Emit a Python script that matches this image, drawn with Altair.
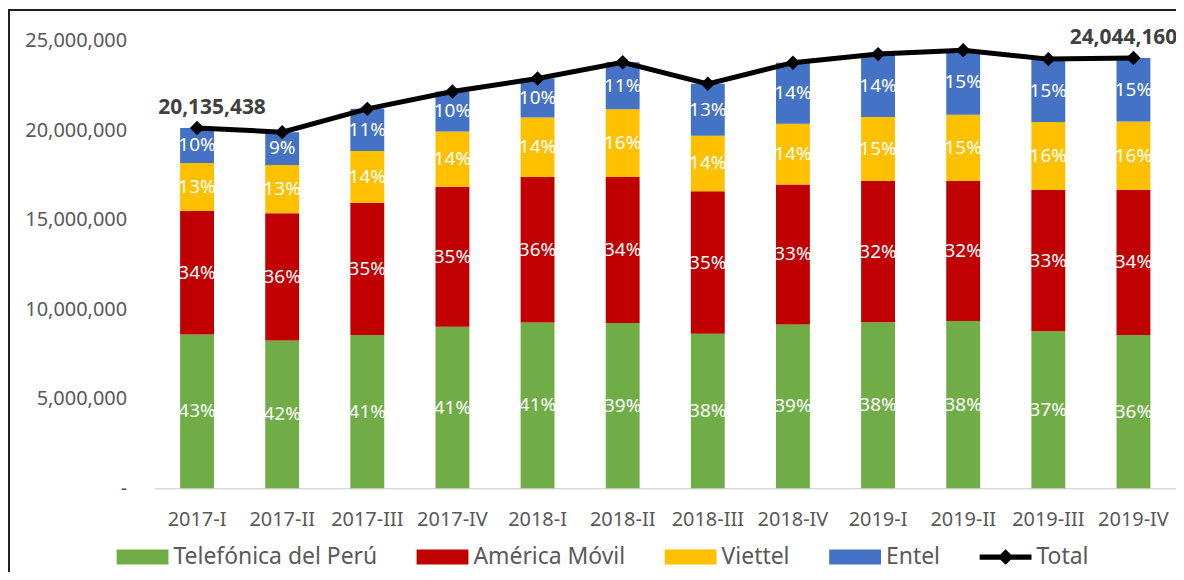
import altair as alt
import pandas as pd

quarters = ["2017-I", "2017-II", "2017-III", "2017-IV", "2018-I", "2018-II",
            "2018-III", "2018-IV", "2019-I", "2019-II", "2019-III", "2019-IV"]
operators = ["Telefónica del Perú", "América Móvil", "Viettel", "Entel"]
colors = ["#70AD47", "#C00000", "#FFC000", "#4472C4"]

telefonica = [8.59e6, 8.26e6, 8.56e6, 9.02e6, 9.26e6, 9.24e6, 8.63e6, 9.15e6, 9.28e6, 9.35e6, 8.78e6, 8.56e6]
america = [6.91e6, 7.11e6, 7.40e6, 7.83e6, 8.14e6, 8.16e6, 7.97e6, 7.83e6, 7.89e6, 7.82e6, 7.89e6, 8.12e6]
viettel = [2.67e6, 2.70e6, 2.89e6, 3.09e6, 3.32e6, 3.78e6, 3.10e6, 3.39e6, 3.57e6, 3.70e6, 3.79e6, 3.82e6]
entel = [1.965438e6, 1.83e6, 2.35e6, 2.23e6, 2.18e6, 2.62e6, 2.90e6, 3.41e6, 3.52e6, 3.61e6, 3.52e6, 3.544160e6]

pct_tel = [43, 42, 41, 41, 41, 39, 38, 39, 38, 38, 37, 36]
pct_am = [34, 36, 35, 35, 36, 34, 35, 33, 32, 32, 33, 34]
pct_vi = [13, 13, 14, 14, 14, 16, 14, 14, 15, 15, 16, 16]
pct_en = [10, 9, 11, 10, 10, 11, 13, 14, 14, 15, 15, 15]

totals = [20135438, 19900000, 21200000, 22170000, 22900000, 23800000,
          22600000, 23780000, 24260000, 24480000, 23980000, 24044160]

series_vals = [telefonica, america, viettel, entel]
series_pct = [pct_tel, pct_am, pct_vi, pct_en]

rows = []
for qi, q in enumerate(quarters):
    base = 0.0
    for oi, op in enumerate(operators):
        v = series_vals[oi][qi]
        rows.append({"quarter": q, "operator": op, "order": oi, "value": v,
                     "y0": base, "y1": base + v, "mid": base + v / 2,
                     "pct": f"{series_pct[oi][qi]}%"})
        base += v
bars_df = pd.DataFrame(rows)
tot_df = pd.DataFrame({"quarter": quarters, "total": totals})
tot_df["label"] = [f"{t:,}" for t in totals]
first_df = tot_df.iloc[[0]]
last_df = tot_df.iloc[[-1]]
legend_df = pd.DataFrame({"operator": operators + ["Total"]})

W, H = 1025, 449
FONT = "Noto Sans"

rect_path = "M-1,-0.29H1V0.29H-1Z"
total_path = "M-1,-0.1H-0.2L0,-0.3L0.2,-0.1H1V0.1H0.2L0,0.3L-0.2,0.1H-1Z"

all_series = operators + ["Total"]
color_scale = alt.Scale(domain=all_series, range=colors + ["#000000"])
shape_scale = alt.Scale(domain=all_series, range=[rect_path] * 4 + [total_path])

legend_spec = dict(title=None, orient="none", direction="horizontal",
                   legendX=-38, legendY=492, symbolSize=2704,
                   symbolStrokeWidth=0, symbolOpacity=1,
                   labelFontSize=23, labelFont=FONT, labelColor="#595959",
                   labelOffset=5, columnPadding=39, labelLimit=400)

x_enc = alt.X("quarter:N", sort=quarters, scale=alt.Scale(paddingInner=0, paddingOuter=0),
              axis=alt.Axis(title=None, labelAngle=0, ticks=False, tickSize=0, labelPadding=21,
                            labelFontSize=20, labelFont=FONT, labelColor="#595959",
                            domainColor="#D9D9D9", domainWidth=1.5, grid=False))
y_scale = alt.Scale(domain=[0, 25000000], nice=False)

bars = alt.Chart(bars_df).mark_bar(size=34).encode(
    x=x_enc,
    y=alt.Y("y0:Q", scale=y_scale,
            axis=alt.Axis(title=None, values=[0, 5e6, 10e6, 15e6, 20e6, 25e6], grid=False,
                          ticks=False, tickSize=0, domain=False, labelPadding=28,
                          labelFontSize=20, labelFont=FONT, labelColor="#595959",
                          labelExpr="datum.value === 0 ? '-\u00a0\u00a0\u00a0\u00a0\u00a0\u00a0\u00a0' : format(datum.value, ',')")),
    y2="y1:Q",
    color=alt.Color("operator:N", scale=color_scale, legend=alt.Legend(**legend_spec)),
    order="order:Q",
)

legend_layer = alt.Chart(legend_df).mark_point(filled=True, opacity=0).encode(
    x=alt.value(0), y=alt.value(0),
    color=alt.Color("operator:N", scale=color_scale, legend=alt.Legend(**legend_spec)),
    shape=alt.Shape("operator:N", scale=shape_scale, legend=alt.Legend(**legend_spec)),
)

pct_text = alt.Chart(bars_df).mark_text(color="white", fontSize=19, font=FONT, baseline="middle").encode(
    x=alt.X("quarter:N", sort=quarters),
    y=alt.Y("mid:Q", scale=y_scale),
    text="pct:N",
)

line = alt.Chart(tot_df).mark_line(color="black", strokeWidth=5).encode(
    x=alt.X("quarter:N", sort=quarters),
    y=alt.Y("total:Q", scale=y_scale),
)
pts = alt.Chart(tot_df).mark_point(shape="diamond", filled=True, color="black", size=210, opacity=1).encode(
    x=alt.X("quarter:N", sort=quarters),
    y=alt.Y("total:Q", scale=y_scale),
)
lab_first = alt.Chart(first_df).mark_text(fontSize=21, font=FONT, fontWeight="bold", color="#404040",
                                          dx=15, dy=-20, baseline="middle").encode(
    x=alt.X("quarter:N", sort=quarters), y=alt.Y("total:Q", scale=y_scale), text="label:N")
lab_last = alt.Chart(last_df).mark_text(fontSize=21, font=FONT, fontWeight="bold", color="#404040",
                                        dx=-10, dy=-20, baseline="middle").encode(
    x=alt.X("quarter:N", sort=quarters), y=alt.Y("total:Q", scale=y_scale), text="label:N")

frame = alt.Chart(pd.DataFrame({"a": [0]})).mark_rect(fill="transparent", stroke="#202020", strokeWidth=2).encode(
    x=alt.value(-146), x2=alt.value(W + 40), y=alt.value(-31), y2=alt.value(H + 200))

chart = alt.layer(frame, bars, pct_text, line, pts, lab_first, lab_last, legend_layer).properties(
    width=W, height=H,
    autosize=alt.AutoSizeParams(type="none"),
    padding={"left": 147, "top": 32, "right": 0, "bottom": 83},
).configure_view(stroke=None)

chart.save("out.html", embed_options={"renderer": "svg", "actions": False})
